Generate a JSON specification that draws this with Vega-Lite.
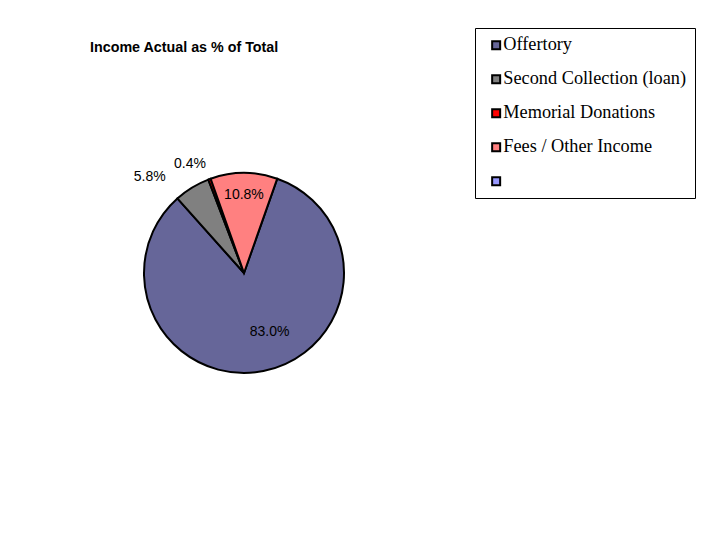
{
  "$schema": "https://vega.github.io/schema/vega-lite/v6.json",
  "width": 488,
  "height": 546,
  "autosize": {"type": "none"},
  "padding": {"left": 0, "top": 0, "right": 226, "bottom": 0},
  "background": "white",
  "title": {
    "text": "Income Actual as % of Total",
    "anchor": "start",
    "frame": "group",
    "orient": "top",
    "offset": 0,
    "dx": 90,
    "dy": 66,
    "baseline": "alphabetic",
    "font": "Liberation Sans",
    "fontSize": 14.3,
    "fontWeight": "bold",
    "color": "black"
  },
  "data": {
    "values": [
      {"category": "Offertory", "share": 0.830, "seq": 1},
      {"category": "Second Collection (loan)", "share": 0.058, "seq": 2},
      {"category": "Memorial Donations", "share": 0.004, "seq": 3},
      {"category": "Fees / Other Income", "share": 0.108, "seq": 4}
    ]
  },
  "encoding": {
    "theta": {"field": "share", "type": "quantitative", "stack": true, "scale": {"range": [0.339, 6.622]}},
    "order": {"field": "seq", "type": "quantitative", "sort": "ascending"}
  },
  "layer": [
    {
      "mark": {"type": "arc", "outerRadius": 100, "stroke": "black", "strokeWidth": 2},
      "encoding": {
        "color": {
          "field": "category",
          "type": "nominal",
          "scale": {
            "domain": ["Offertory", "Second Collection (loan)", "Memorial Donations", "Fees / Other Income", " "],
            "range": ["#666699", "#808080", "#FF0000", "#FF8080", "#9999FF"]
          },
          "legend": {
            "orient": "none",
            "legendX": 475,
            "legendY": 28,
            "title": null,
            "padding": 8,
            "strokeColor": "black",
            "fillColor": "white",
            "symbolType": "square",
            "symbolSize": 64,
            "symbolStrokeColor": "black",
            "symbolStrokeWidth": 2,
            "symbolOpacity": 1,
            "symbolOffset": 4,
            "labelOffset": -2,
            "labelFont": "Liberation Serif",
            "labelFontSize": 18.3,
            "labelColor": "black",
            "rowPadding": 15,
            "labelLimit": 400
          }
        }
      }
    },
    {
      "mark": {"type": "text", "radius": 60, "dx": 14, "font": "Liberation Sans", "fontSize": 14, "color": "black"},
      "encoding": {
        "detail": {"field": "category", "type": "nominal"},
        "text": {"condition": {"test": "datum.category === 'Offertory'", "field": "share", "type": "quantitative", "format": ".1%"}, "value": ""}
      }
    },
    {
      "mark": {"type": "text", "radius": 78, "font": "Liberation Sans", "fontSize": 14, "color": "black"},
      "encoding": {
        "detail": {"field": "category", "type": "nominal"},
        "text": {"condition": {"test": "datum.category === 'Fees / Other Income'", "field": "share", "type": "quantitative", "format": ".1%"}, "value": ""}
      }
    },
    {
      "mark": {"type": "text", "radius": 112, "dx": -36, "font": "Liberation Sans", "fontSize": 14, "color": "black"},
      "encoding": {
        "detail": {"field": "category", "type": "nominal"},
        "text": {"condition": {"test": "datum.category === 'Second Collection (loan)'", "field": "share", "type": "quantitative", "format": ".1%"}, "value": ""}
      }
    },
    {
      "mark": {"type": "text", "radius": 116, "dx": -14, "font": "Liberation Sans", "fontSize": 14, "color": "black"},
      "encoding": {
        "detail": {"field": "category", "type": "nominal"},
        "text": {"condition": {"test": "datum.category === 'Memorial Donations'", "field": "share", "type": "quantitative", "format": ".1%"}, "value": ""}
      }
    }
  ],
  "config": {"view": {"stroke": null}, "legend": {"strokeWidth": 1}}
}
